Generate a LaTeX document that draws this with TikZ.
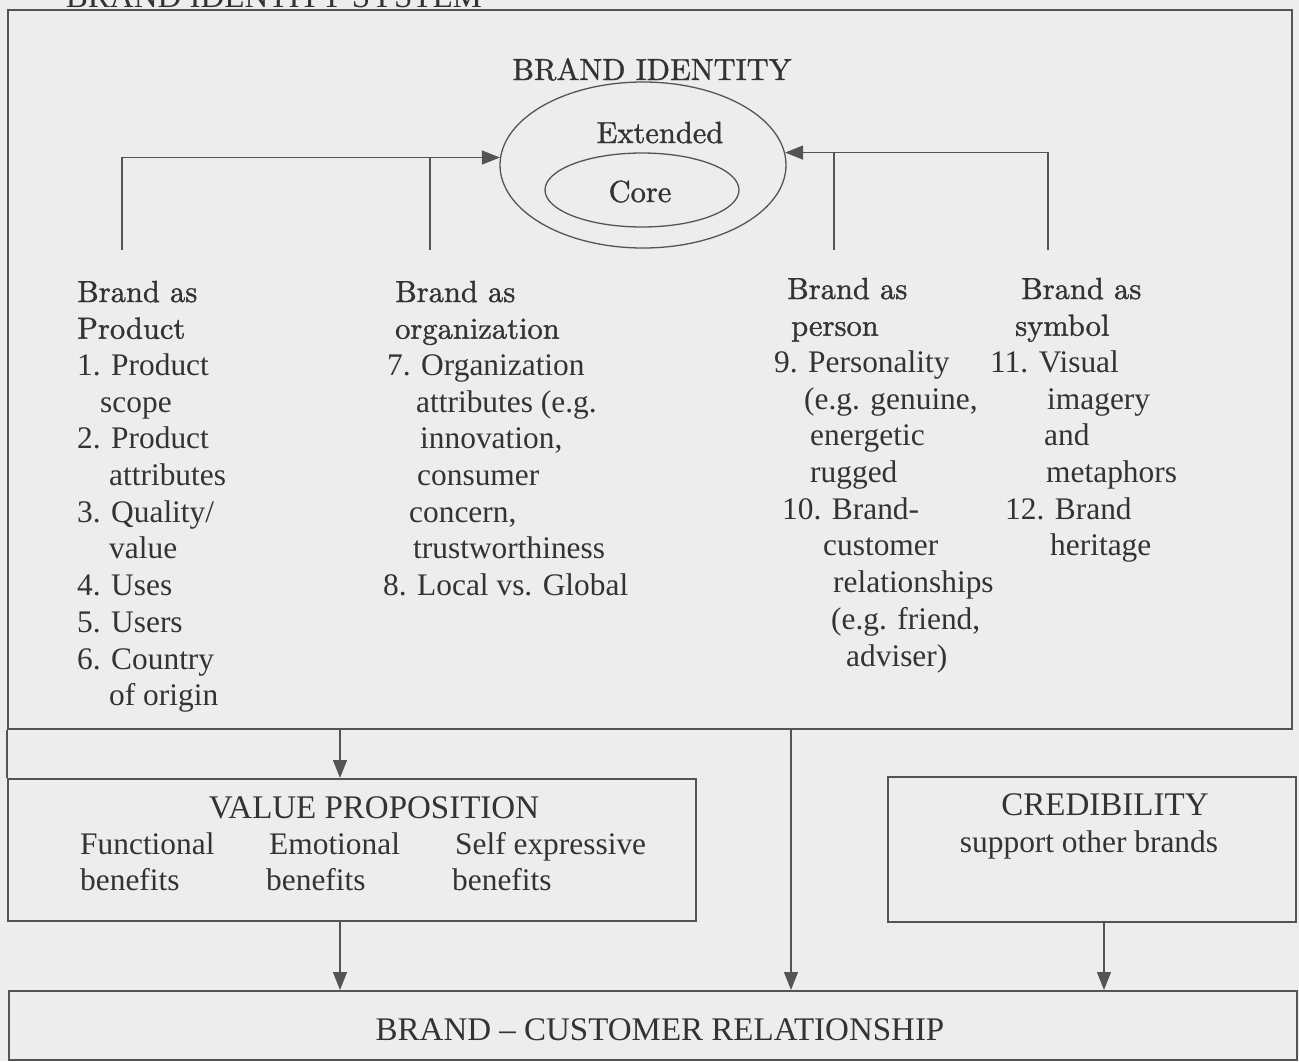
\documentclass[tikz,border=0pt]{standalone}
\usepackage{fontspec}
\newfontfamily\timesfont{Liberation Serif}
\newfontfamily\hdfont{lmroman10-regular.otf}[FakeBold=1.2]
\usetikzlibrary{arrows.meta, positioning, shapes.geometric}

\definecolor{paper}{gray}{0.93}
\definecolor{ink}{gray}{0.2}
\definecolor{rule}{gray}{0.33}

% headings in the column blocks and the ellipse are set in the roman face
\newcommand{\hd}[1]{{\hdfont\fontsize{30.5}{36.7}\selectfont #1}}

\tikzset{
  box/.style={draw=rule, line width=1.8pt, inner sep=0pt, anchor=north west},
  link/.style={draw=rule, line width=1.3pt},
  arr/.style={link, -{Triangle[length=18pt, width=14pt]}},
  txt/.style={text=ink, inner sep=0pt, font=\timesfont\fontsize{31.4}{36.7}\selectfont},
  caps/.style={txt, font=\timesfont\fontsize{33}{36.7}\selectfont},
  % multi-line blocks: placed by the baseline of their last line
  col/.style={txt, align=left, anchor=base west},
}

\begin{document}
\begin{tikzpicture}[x=1pt, y=-1pt]
  \fill[paper] (0,0) rectangle (1299,1061);
  \useasboundingbox (0,0) rectangle (1299,1061);
  \clip (0,0) rectangle (1299,1061);

  % heading of the figure, cut by the top of the page
  \node[caps, anchor=base] (title) at (274,7) {BRAND IDENTITY SYSTEM};

  % frames
  \node[box, minimum width=1284pt, minimum height=719pt] (idsys) at (7,9) {};
  \node[box, minimum width=688pt, minimum height=142pt] (vp) at (7,778) {};
  \node[box, minimum width=408pt, minimum height=145pt] (cred) at (887,776) {};
  \node[box, minimum width=1288pt, minimum height=69pt] (bcr) at (8,990) {};
  \draw[box] (idsys.south west) -- (vp.north west);

  % brand identity: extended and core
  \node[txt, anchor=base] (bi) at (652,80) {\hd{BRAND IDENTITY}};
  \node[link, ellipse, minimum width=286pt, minimum height=166pt, inner sep=0pt] (ext) at (643,165) {};
  \node[link, ellipse, minimum width=194pt, minimum height=74pt, inner sep=0pt] (core) at (642,190) {};
  \node[txt, anchor=base] (extlbl) at (660,143) {\hd{Extended}};
  \node[txt, anchor=base] (corelbl) at (640,202) {\hd{Core}};

  % brackets feeding the ellipse
  \coordinate (pl) at (122,250);
  \coordinate (ol) at (430,250);
  \coordinate (sr) at (834,250);
  \coordinate (pr) at (1048,250);
  \draw[arr] (pl) |- (ext.177);
  \draw[link] (ol) -- (ol |- ext.177);
  \draw[arr] (pr) |- (ext.5);
  \draw[link] (sr) -- (sr |- ext.5);

  % the four perspectives
  \node[col] (product) at (77,705.7) {\hd{Brand as}\\\hd{Product}\\
    1. Product\\\hspace*{23pt}scope\\
    2. Product\\\hspace*{32pt}attributes\\
    3. Quality/\\\hspace*{32pt}value\\
    4. Uses\\5. Users\\
    6. Country\\\hspace*{32pt}of origin};
  \node[col] (org) at (383,595.6) {\hspace*{12pt}\hd{Brand as}\\\hspace*{12pt}\hd{organization}\\
    \hspace*{4pt}7. Organization\\\hspace*{33pt}attributes (e.g.\\
    \hspace*{37pt}innovation,\\\hspace*{34pt}consumer\\
    \hspace*{26pt}concern,\\\hspace*{30pt}trustworthiness\\
    8. Local vs. Global};
  \node[col] (person) at (774,666) {\hspace*{13pt}\hd{Brand as}\\\hspace*{17pt}\hd{person}\\
    9. Personality\\\hspace*{30pt}(e.g. genuine,\\
    \hspace*{36pt}energetic\\\hspace*{36pt}rugged\\
    \hspace*{8pt}10. Brand-\\\hspace*{49pt}customer\\
    \hspace*{59pt}relationships\\\hspace*{57pt}(e.g. friend,\\
    \hspace*{72pt}adviser)};
  \node[col] (symbol) at (990,555.9) {\hspace*{31pt}\hd{Brand as}\\\hspace*{25pt}\hd{symbol}\\
    11. Visual\\\hspace*{57pt}imagery\\
    \hspace*{54pt}and\\\hspace*{56pt}metaphors\\
    \hspace*{15pt}12. Brand\\\hspace*{60pt}heritage};

  % value proposition
  \node[caps, anchor=base] (vptitle) at (374,818) {VALUE PROPOSITION};
  \node[col] (func) at (80,890.7) {Functional\\benefits};
  \node[col] (emo) at (266,890.7) {\hspace*{3pt}Emotional\\benefits};
  \node[col] (self) at (452,890.7) {\hspace*{3pt}Self expressive\\benefits};

  % credibility
  \node[caps, anchor=base] (credtitle) at (1105,815) {CREDIBILITY};
  \node[txt, anchor=base] (credsub) at (1089,852) {support other brands};

  % relationship
  \node[caps, anchor=base] (bcrtitle) at (660,1040) {BRAND \textendash{} CUSTOMER RELATIONSHIP};

  % flows down to the relationship
  \coordinate (vpx) at (340,0);
  \coordinate (midx) at (791,0);
  \coordinate (crx) at (1104,0);
  \draw[arr] (idsys.south -| vpx) -- (vp.north -| vpx);
  \draw[arr] (vp.south -| vpx) -- (bcr.north -| vpx);
  \draw[arr] (idsys.south -| midx) -- (bcr.north -| midx);
  \draw[arr] (cred.south -| crx) -- (bcr.north -| crx);
\end{tikzpicture}
\end{document}
